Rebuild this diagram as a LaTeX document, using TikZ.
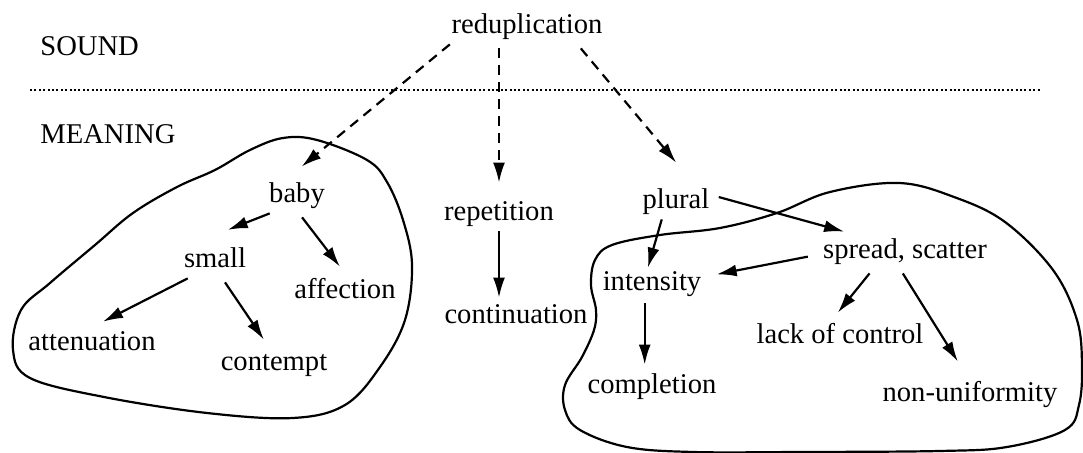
\documentclass[tikz,border=0pt]{standalone}
\usepackage{fontspec}
\setmainfont{Liberation Serif}
\usetikzlibrary{calc, positioning, arrows.meta}
\tikzstyle{word}=[inner sep=2pt, text height=9pt, text depth=3pt, font=\fontsize{14.3}{16}\selectfont]
\tikzstyle{arr}=[line width=1.1pt, -{Latex[length=10pt,width=6pt]}]
\tikzstyle{darr}=[arr, dash pattern=on 5pt off 3.5pt]
\tikzstyle{blob}=[line width=1.1pt]
\tikzset{>=stealth}

\begin{document}
\begin{tikzpicture}[x=0.5pt, y=-0.5pt]
\useasboundingbox (0,0) rectangle (1083,453);
% the two levels
\node[word, anchor=west, inner sep=0pt] (snd) at (40,50) {SOUND};
\node[word, anchor=west, inner sep=0pt] (mng) at (40,138) {MEANING};
\draw[line width=0.8pt, dash pattern=on 1pt off 1.2pt] (30,90) -- (1040,90);
% the words
\node[word] (redup) at (527,28) {reduplication};
\node[word] (baby) at (297,197) {baby};
\node[word] (small) at (215,262) {small};
\node[word] (affect) at (345,293) {affection};
\node[word] (atten) at (92,345) {attenuation};
\node[word] (contempt) at (274,365) {contempt};
\node[word] (repet) at (499,215) {repetition};
\node[word] (contin) at (516,318) {continuation};
\node[word] (plural) at (676,203) {plural};
\node[word] (intens) at (652,285) {intensity};
\node[word] (spread) at (905,253) {spread, scatter};
\node[word] (lack) at (840,338) {lack of control};
\node[word] (complet) at (652,388) {completion};
\node[word] (nonuni) at (970,396) {non-uniformity};
% the blobs
\draw[blob] plot[smooth cycle, tension=0.6] coordinates {(283,138) (317,140) (367,160) (387,182) (403,220) (412,265) (405,320) (380,367) (345,405) (293,418) (207,413) (104,397) (30,378) (13,350) (21,310) (50,283) (95,245) (133,213) (177,187) (215,170) (250,150)};
\draw[blob] plot[smooth cycle, tension=0.6] coordinates {(899,183) (954,197) (1005,222) (1053,270) (1077,320) (1082,365) (1079,405) (1065,430) (1007,447) (940,451) (800,452) (693,452) (627,447) (580,430) (565,410) (565,385) (582,357) (594,330) (596,310) (591,285) (595,260) (612,245) (660,235) (720,228) (777,213) (830,192)};
% the dashed arrows
\draw[darr, shorten >=11pt] (redup.192) -- (baby.127);
\draw[darr, shorten <=2pt, shorten >=8pt] (redup.south -| repet.north) -- (repet.north);
\draw[darr, shorten <=2.6pt, shorten >=15.6pt] (redup.342) -- (plural.39);
% the solid arrows
\draw[arr, shorten >=21.5pt] (baby.211) -- (small.149);
\draw[arr, shorten <=2.5pt, shorten >=6.3pt] (baby.277) -- (affect.81);
\draw[arr, shorten >=7.6pt] (small.211) -- (atten.99);
\draw[arr, shorten <=2.4pt, shorten >=5.4pt] (small.294) -- (contempt.104);
\draw[arr, shorten >=2pt] (repet.south) -- (repet.south |- contin.north);
\draw[arr, shorten <=2.6pt, shorten >=9.4pt] (plural.11) -- (spread.159);
\draw[arr, shorten >=0.5pt] (plural.229) -- (intens.105);
\draw[arr, shorten <=5.6pt, shorten >=5.6pt] (spread.181) -- (intens.9);
\draw[arr, shorten <=1pt, shorten >=3.5pt] (intens.246) -- (intens.246 |- complet.north);
\draw[arr, shorten <=2.6pt, shorten >=5.8pt] (spread.207) -- (lack.120);
\draw[arr, shorten <=2.4pt, shorten >=10.6pt] (spread.254) -- (nonuni.93);
\end{tikzpicture}
\end{document}
